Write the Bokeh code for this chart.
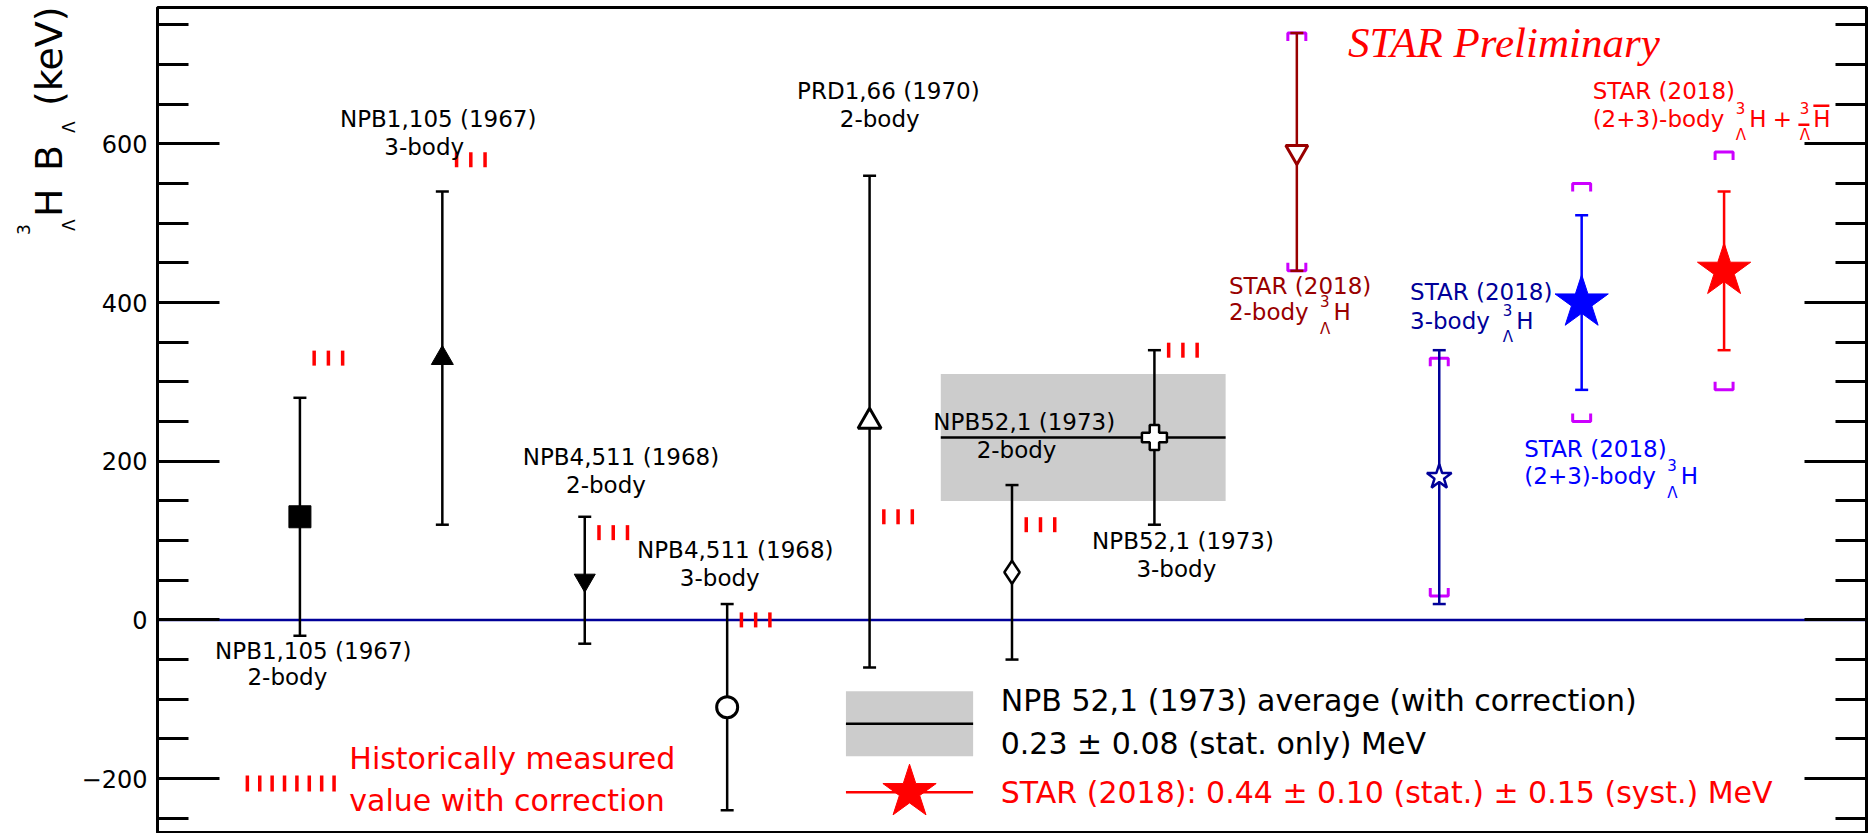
import math
from bokeh.plotting import figure
from bokeh.layouts import row
from bokeh.models import Range1d, FixedTicker, LinearAxis, Span, Div
from bokeh.core.properties import value
from bokeh.embed import file_html
from bokeh.resources import INLINE

# ---------------------------------------------------------------- data (keV)
# Historical emulsion measurements of the hypertriton binding energy
hist_refs = ["NPB1,105 (1967)", "NPB1,105 (1967)", "NPB4,511 (1968)",
             "NPB4,511 (1968)", "PRD1,66 (1970)", "NPB52,1 (1973)",
             "NPB52,1 (1973)"]
hist_decay = ["2-body", "3-body", "2-body", "3-body", "2-body", "2-body", "3-body"]
hist_x = [1, 2, 3, 4, 5, 6, 7]
hist_b = [130, 330, 50, -110, 250, 60, 230]
hist_err = [150, 210, 80, 130, 310, 110, 110]
hist_corrected = [330, 580, 110, 0, 130, 120, 340]

# NPB 52,1 (1973) average
avg_b = 230
avg_err = 80
avg_x = [5.5, 7.5]

# STAR (2018) results
star_x = [8, 9, 10, 11]
star_b = [590, 180, 400, 440]
star_stat = [150, 160, 110, 100]
star_syst = [150, 150, 150, 150]
star_decay = ["2-body", "3-body", "(2+3)-body", "(2+3)-body"]

# y axis ticks
y_major = [-200, 0, 200, 400, 600]
y_minor = [-250, -150, -100, -50, 50, 100, 150, 250, 300, 350,
           450, 500, 550, 650, 700, 750]

# ---------------------------------------------------------------- layout
W, H = 1876, 833
TITLE_W = 78                  # strip holding the rotated y-axis title
MAIN_W = W - TITLE_W
BL, BR, BT, BB = 155 - TITLE_W, 10, 7, 1
X0, X1 = 0, 12
Y0, Y1 = -268, 772
FRAME_W = MAIN_W - BL - BR
FRAME_H = H - BT - BB
PX_X = FRAME_W / (X1 - X0)   # pixels per x unit
PX_Y = FRAME_H / (Y1 - Y0)   # pixels per keV

SANS = "DejaVu Sans"
DARKRED = "#990000"
NAVY = "#000099"
BLUE = "#0000ff"
RED = "#ff0000"
SYST = "#cc00ff"
GREY = "#cccccc"

p = figure(width=MAIN_W, height=H, x_range=Range1d(X0, X1), y_range=Range1d(Y0, Y1),
           x_axis_location=None, y_axis_location="left",
           toolbar_location=None, output_backend="svg",
           min_border_left=BL, min_border_right=BR,
           min_border_top=BT, min_border_bottom=BB)
p.xgrid.visible = False
p.ygrid.visible = False
p.background_fill_color = "white"
p.border_fill_color = "white"
p.outline_line_color = "black"
p.outline_line_width = 3
p.outline_line_alpha = 1


def style_axis(ax, labels=True):
    ax.ticker = FixedTicker(ticks=y_major, minor_ticks=y_minor)
    ax.major_tick_in = 62
    ax.major_tick_out = 0
    ax.minor_tick_in = 31
    ax.minor_tick_out = 0
    ax.major_tick_line_width = 3
    ax.minor_tick_line_width = 3
    ax.major_tick_line_color = "black"
    ax.minor_tick_line_color = "black"
    ax.axis_line_width = 3
    ax.axis_line_color = "black"
    ax.major_label_text_font = SANS
    ax.major_label_text_font_size = "24px"
    ax.major_label_text_color = "black"
    if labels:
        ax.major_label_standoff = 10
        ax.major_label_overrides = {t: (f"\u2212{-t}" if t < 0 else str(t)) for t in y_major}
    else:
        ax.major_label_standoff = 0
        ax.major_label_overrides = {t: "" for t in y_major}


style_axis(p.yaxis[0])
right_axis = LinearAxis()
style_axis(right_axis, labels=False)
p.add_layout(right_axis, "right")


def txt(x, y, s, color="black", size=23, align="center", dx=0, dy=0,
        font=SANS, style="normal", baseline="middle"):
    p.text(x=[x], y=[y], text=[s], x_offset=dx, y_offset=dy,
           text_color=color, text_font=value(font), text_font_size=f"{size}px",
           text_align=align, text_baseline=baseline, text_font_style=style)


def overline(x, y, dx0, dx1, dy, color):
    # short bar drawn dx/dy pixels away from a text anchor
    yy = y - dy / PX_Y
    p.segment(x0=[x + dx0 / PX_X], x1=[x + dx1 / PX_X], y0=[yy], y1=[yy],
              line_color=color, line_width=2.5)


def hyper(x, y, dx, color, anti=False):
    txt(x, y, "3", color, 15, "left", dx, -11)
    txt(x, y, "\u039b", color, 15, "left", dx, 16.5)
    txt(x, y, "H", color, 23, "left", dx + 13.5, 0)
    if anti:
        overline(x, y, dx - 1, dx + 10, 6, color)
        overline(x, y, dx + 14, dx + 30, -13, color)


# ---------------------------------------------------------------- NPB 52,1 average band
p.quad(left=[avg_x[0]], right=[avg_x[1]], bottom=[avg_b - avg_err], top=[avg_b + avg_err],
       fill_color=GREY, line_color=None)
p.segment(x0=[avg_x[0]], x1=[avg_x[1]], y0=[avg_b], y1=[avg_b],
          line_color="black", line_width=2.5)

# zero line
p.add_layout(Span(location=0, dimension="width", line_color=NAVY,
                  line_width=2.5, level="underlay"))

# ---------------------------------------------------------------- historical points
h_lo = [b - e for b, e in zip(hist_b, hist_err)]
h_hi = [b + e for b, e in zip(hist_b, hist_err)]
p.segment(x0=hist_x, x1=hist_x, y0=h_lo, y1=h_hi, line_color="black", line_width=2.5)
p.scatter(x=hist_x + hist_x, y=h_lo + h_hi, marker="dash", size=13,
          line_color="black", line_width=2.5)

hist_markers = [("square", 22, "black", 1), ("triangle", 22, "black", 1),
                ("inverted_triangle", 21, "black", 1), ("circle", 21, "white", 3),
                ("triangle", 23, "white", 3), ("diamond", 23, "white", 2.5),
                ("plus", 25, "white", 2.5)]
for x, b, (mk, sz, fill, lw) in zip(hist_x, hist_b, hist_markers):
    p.scatter(x=[x], y=[b], marker=mk, size=sz, fill_color=fill,
              line_color="black", line_width=lw)

# corrected historical values: short red ticks to the right of each point
corr_offsets = [0.1, 0.2, 0.3]
cx = [x + o for x in hist_x for o in corr_offsets]
cy = [c for c in hist_corrected for _ in corr_offsets]
p.scatter(x=cx, y=cy, marker="dash", angle=math.pi / 2, size=15,
          line_color=RED, line_width=3.5)

hist_label_pos = [((1.094, -39.6), (0.912, -71.6)), ((1.971, 632), (1.873, 596)),
                  ((3.254, 204.8), (3.149, 170)), ((4.057, 87.5), (3.948, 53)),
                  ((5.132, 666.5), (5.071, 632)), ((6.086, 249.2), (6.032, 214.4)),
                  ((7.201, 99.2), (7.154, 64.8))]
for ref, dec, (l1, l2) in zip(hist_refs, hist_decay, hist_label_pos):
    txt(l1[0], l1[1], ref)
    txt(l2[0], l2[1], dec)

# ---------------------------------------------------------------- STAR points
star_colors = [DARKRED, NAVY, BLUE, RED]
hw = 9 / PX_X
leg = 8 / PX_Y
for x, b, s in zip(star_x, star_b, star_syst):
    up, lo = b + s, b - s
    p.multi_line(xs=[[x - hw, x - hw, x + hw, x + hw], [x - hw, x - hw, x + hw, x + hw]],
                 ys=[[up - leg, up, up, up - leg], [lo + leg, lo, lo, lo + leg]],
                 line_color=SYST, line_width=3)

s_lo = [b - e for b, e in zip(star_b, star_stat)]
s_hi = [b + e for b, e in zip(star_b, star_stat)]
p.segment(x0=star_x, x1=star_x, y0=s_lo, y1=s_hi, line_color=star_colors, line_width=2.5)
p.scatter(x=star_x + star_x, y=s_lo + s_hi, marker="dash", size=13,
          line_color=star_colors + star_colors, line_width=2.5)

star_markers = [("inverted_triangle", 22, "white", 3), ("star", 26, "white", 2.5),
                ("star", 56, BLUE, 1), ("star", 56, RED, 1)]
for x, b, c, (mk, sz, fill, lw) in zip(star_x, star_b, star_colors, star_markers):
    p.scatter(x=[x], y=[b], marker=mk, size=sz, fill_color=fill,
              line_color=c, line_width=lw)

star_label_pos = [(7.523, 421.5, 388), (8.795, 413.1, 377.4),
                  (9.597, 215.7, 180.8), (10.077, 666.5, 631.7)]
hyper_dx = [91, 92.7, 143, 143]
for i, ((lx, y1, y2), c, dec, hdx) in enumerate(zip(star_label_pos, star_colors,
                                                   star_decay, hyper_dx)):
    txt(lx, y1, "STAR (2018)", c, align="left")
    txt(lx, y2, dec, c, align="left")
    hyper(lx, y2, hdx, c)
    if i == 3:
        txt(lx, y2, "+", c, 23, "left", 180, 0)
        hyper(lx, y2, 207, c, anti=True)

txt(8.36, 727.5, "STAR Preliminary", RED, 43, "left",
    font="Liberation Serif", style="italic")

# ---------------------------------------------------------------- legends
LX0, LX1 = 4.834, 5.727
LTX = 5.921
p.quad(left=[LX0], right=[LX1], top=[-90.0], bottom=[-171.8], fill_color=GREY, line_color=None)
p.segment(x0=[LX0], x1=[LX1], y0=[-131.0], y1=[-131.0], line_color="black", line_width=2.5)
p.segment(x0=[LX0], x1=[LX1], y0=[-217.2], y1=[-217.2], line_color=RED, line_width=2.5)
p.scatter(x=[(LX0 + LX1) / 2], y=[-217.2], marker="star", size=56,
          fill_color=RED, line_color=RED)

txt(LTX, -101.6, "NPB 52,1 (1973) average (with correction)", "black", 30, "left")
txt(LTX, -156.2, f"{avg_b / 1000:.2f} \u00b1 {avg_err / 1000:.2f} (stat. only) MeV",
    "black", 30, "left")
txt(LTX, -217.2,
    f"STAR (2018): {star_b[3] / 1000:.2f} \u00b1 {star_stat[3] / 1000:.2f} (stat.) "
    f"\u00b1 {star_syst[3] / 1000:.2f} (syst.) MeV", RED, 30, "left")

hx = [0.631 + k * 12.4 / PX_X for k in range(8)]
p.scatter(x=hx, y=[-206.1] * len(hx), marker="dash", angle=math.pi / 2, size=16,
          line_color=RED, line_width=3.5)
txt(1.347, -175.1, "Historically measured", RED, 30, "left")
txt(1.347, -227.6, "value with correction", RED, 30, "left")

# ---------------------------------------------------------------- y axis title strip
# pieces: (baseline x, start y, text, font px); each one is rotated to read upwards
BASE = 0.846   # baseline depth of a DejaVu Sans line box with line-height 1
title_pieces = [(30, 234.5, "3", 17), (75, 231.0, "\u039b", 17),
                (62, 216.7, "H", 38), (62, 170.7, "B", 38),
                (75, 132.5, "\u039b", 17), (62, 106.0, "(keV)", 38)]
spans = "".join(
    f'<span style="position:absolute;left:{bx - BASE * fs:.1f}px;top:{sy:.1f}px;'
    f'font-size:{fs}px;line-height:{fs}px;transform-origin:0 0;'
    f'transform:rotate(-90deg);white-space:nowrap;">{s}</span>'
    for bx, sy, s, fs in title_pieces)
title_html = (f'<div style="position:relative;width:{TITLE_W}px;height:{H}px;'
              f'font-family:\'DejaVu Sans\';color:black;">{spans}</div>')
title = Div(text=title_html, width=TITLE_W, height=H, margin=0)

layout = row(title, p, spacing=0)
open("out.html", "w").write(file_html(layout, INLINE))
